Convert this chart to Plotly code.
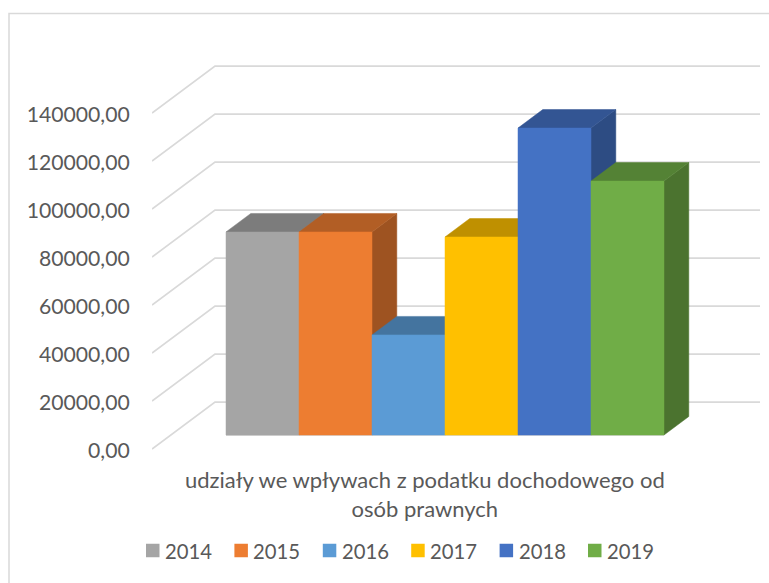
import plotly.graph_objects as go

# --- data ---
years = ["2014", "2015", "2016", "2017", "2018", "2019"]
values = [84600, 84600, 41700, 82500, 127900, 105800]
y_ticks = [0, 20000, 40000, 60000, 80000, 100000, 120000, 140000]
category_label = "udziały we wpływach z podatku dochodowego od<br>osób prawnych"

# --- styles ---
front = ["#A5A5A5", "#ED7D31", "#5B9BD5", "#FFC000", "#4472C4", "#70AD47"]
top = ["#7C7C7C", "#B25E25", "#44749F", "#BF9000", "#335593", "#548235"]
side = ["#6E6E6E", "#9E5321", "#3D688E", "#AA8000", "#2D4C83", "#4B732F"]
GRID = "#D9D9D9"
TEXT = "#595959"
FONT = "Lato"
W, H = 769, 583

# axis scales: bar width 73 px, 48 px per 20000
PX_PER_BAR = 73.0
PX_PER_VAL = 48.0 / 20000
X_LEFT_PX, BAR0_PX, Y0_PX = 152.0, 226.0, 449.0
DEPTH_X = 63.0 / PX_PER_BAR     # full floor depth, x units
DEPTH_Y = 47.0 / PX_PER_VAL     # full floor depth, value units
BAR_D0, BAR_D1 = 14.0 / 47, 32.5 / 47
X_START = (X_LEFT_PX - BAR0_PX) / PX_PER_BAR
X_END = (760.0 - BAR0_PX) / PX_PER_BAR


def proj(x, v, d):
    return x + d * DEPTH_X, v + d * DEPTH_Y


def bar_pt(x, v, d):
    # bars: the front face starts at x, the depth is measured from the bar's front
    return x + (d - BAR_D0) * DEPTH_X, v + d * DEPTH_Y


def poly(points, color, name):
    return go.Scatter(
        x=[p[0] for p in points] + [points[0][0]],
        y=[p[1] for p in points] + [points[0][1]],
        mode="lines", fill="toself", fillcolor=color,
        line=dict(color=color, width=0.5), hoverinfo="skip",
        showlegend=False, name=name,
    )


fig = go.Figure()

# walls: gridlines run along the side wall and along the back wall
for t in y_ticks:
    a = proj(X_START, t, 0)
    b = proj(X_START, t, 1)
    c = (X_END, b[1])
    fig.add_trace(go.Scatter(x=[a[0], b[0], c[0]], y=[a[1], b[1], c[1]], mode="lines",
                             line=dict(color=GRID, width=1.75), hoverinfo="skip", showlegend=False))

# baseline under the bars
b0 = bar_pt(0, 0, BAR_D0)
b1 = bar_pt(len(years), 0, BAR_D0)
fig.add_trace(go.Scatter(x=[b0[0], b1[0]], y=[b0[1], b1[1]], mode="lines",
                         line=dict(color=GRID, width=2), hoverinfo="skip", showlegend=False))

# bars, painted left to right
for i, (yr, val) in enumerate(zip(years, values)):
    x0, x1 = i, i + 1
    fig.add_trace(poly([bar_pt(x1, 0, BAR_D0), bar_pt(x1, 0, BAR_D1), bar_pt(x1, val, BAR_D1), bar_pt(x1, val, BAR_D0)], side[i], yr))
    fig.add_trace(poly([bar_pt(x0, val, BAR_D0), bar_pt(x1, val, BAR_D0), bar_pt(x1, val, BAR_D1), bar_pt(x0, val, BAR_D1)], top[i], yr))
    fig.add_trace(poly([bar_pt(x0, 0, BAR_D0), bar_pt(x1, 0, BAR_D0), bar_pt(x1, val, BAR_D0), bar_pt(x0, val, BAR_D0)], front[i], yr))

# legend drawn to the reference's tight swatch/text spacing
LEG_X0, LEG_STEP, LEG_SIZE, LEG_GAP, LEG_Y = 146.0, 88.4, 13.5, 20.0, 550.5
shapes = [dict(type="rect", xref="paper", yref="paper", x0=9 / W, x1=1.01,
               y0=-0.01, y1=(H - 13.5) / H, line=dict(color=GRID, width=1.5), layer="below")]
annotations = [dict(text=category_label, xref="paper", yref="paper", x=425 / W, y=(H - 494) / H,
                    xanchor="center", yanchor="middle", align="center", showarrow=False,
                    font=dict(family=FONT, size=22, color=TEXT))]
for i, (yr, col) in enumerate(zip(years, front)):
    lx = LEG_X0 + i * LEG_STEP
    shapes.append(dict(type="rect", xref="paper", yref="paper", x0=lx / W, x1=(lx + LEG_SIZE) / W,
                       y0=(H - LEG_Y - LEG_SIZE / 2) / H, y1=(H - LEG_Y + LEG_SIZE / 2) / H,
                       fillcolor=col, line=dict(width=0)))
    annotations.append(dict(text=yr, xref="paper", yref="paper", x=(lx + LEG_GAP) / W, y=(H - LEG_Y) / H,
                            xanchor="left", yanchor="middle", showarrow=False, xshift=-3,
                            font=dict(family=FONT, size=20.3, color=TEXT)))

fig.update_layout(
    width=W, height=H,
    margin=dict(l=0, r=0, t=0, b=0),
    paper_bgcolor="white", plot_bgcolor="rgba(0,0,0,0)",
    separators=", ",
    showlegend=False,
    font=dict(family=FONT, color=TEXT, size=20),
    xaxis=dict(domain=[X_LEFT_PX / W, 1], visible=False, showgrid=False, zeroline=False,
               range=[X_START, (W - BAR0_PX) / PX_PER_BAR]),
    yaxis=dict(domain=[0, 1], range=[-(H - Y0_PX) / PX_PER_VAL, Y0_PX / PX_PER_VAL],
               tickmode="array", tickvals=y_ticks, tickformat=".2f",
               ticks="outside", ticklen=17, tickcolor="rgba(0,0,0,0)",
               ticklabelshift=2,
               showgrid=False, zeroline=False, showline=False,
               tickfont=dict(family=FONT, size=21.2, color=TEXT)),
    shapes=shapes,
    annotations=annotations,
)

fig.write_html("out.html", config=dict(displayModeBar=False),
               post_script="document.body.style.margin='0';document.body.style.overflow='hidden';")
